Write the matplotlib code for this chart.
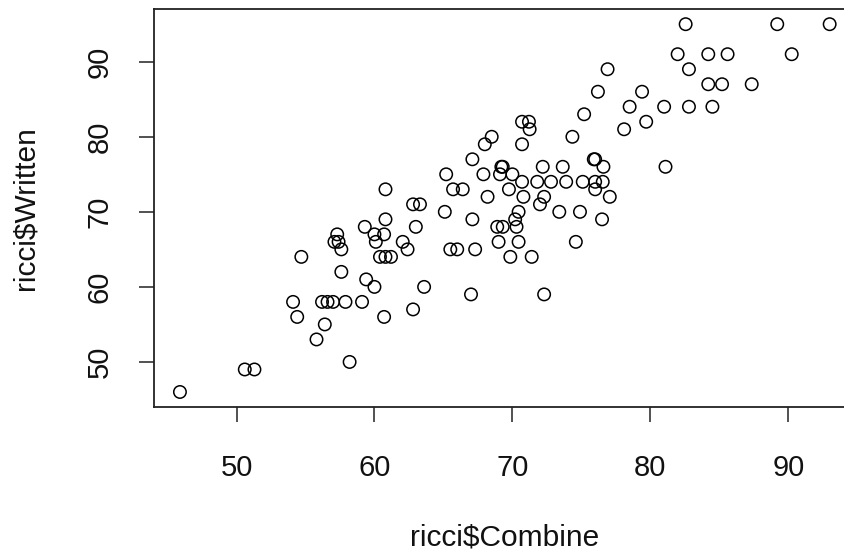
import matplotlib
matplotlib.use("Agg")
import matplotlib.pyplot as plt
import numpy as np

# Combined score vs written score, one entry per candidate
combine = [
    45.9, 50.6, 51.3, 55.8, 56.4, 54.4, 60.7, 62.8, 54.1, 56.2,
    56.6, 57.0, 57.9, 59.1, 58.2, 67.0, 72.3, 60.0, 63.6, 59.4,
    57.6, 54.7, 60.4, 60.8, 61.2, 69.85, 71.4, 57.6, 62.4, 65.5,
    66.0, 67.3, 57.1, 57.4, 60.1, 62.05, 69.0, 70.45, 74.6, 57.3,
    60.0, 60.7, 59.3, 63.0, 68.9, 69.3, 70.3, 60.8, 67.1, 70.2,
    76.5, 65.1, 70.45, 73.4, 74.9, 62.8, 63.3, 72.0, 68.2, 70.8,
    72.3, 77.06, 60.8, 65.7, 66.4, 69.75, 76.0, 70.7, 71.8, 72.8,
    73.9, 75.1, 76.0, 76.55, 65.2, 67.9, 69.1, 70.0, 69.2, 69.3,
    72.2, 73.65, 76.6, 81.1, 67.1, 75.9, 76.0, 68.0, 70.7, 68.5,
    74.35, 71.25, 78.1, 70.7, 71.2, 79.7, 75.2, 78.5, 81.0, 82.8,
    84.5, 76.2, 79.4, 84.2, 85.2, 87.35, 76.9, 82.8, 81.98, 84.2,
    85.6, 90.25, 82.56, 89.2, 93.0,
]
written = [
    46, 49, 49, 53, 55, 56, 56, 57, 58, 58,
    58, 58, 58, 58, 50, 59, 59, 60, 60, 61,
    62, 64, 64, 64, 64, 64, 64, 65, 65, 65,
    65, 65, 66, 66, 66, 66, 66, 66, 66, 67,
    67, 67, 68, 68, 68, 68, 68, 69, 69, 69,
    69, 70, 70, 70, 70, 71, 71, 71, 72, 72,
    72, 72, 73, 73, 73, 73, 73, 74, 74, 74,
    74, 74, 74, 74, 75, 75, 75, 75, 76, 76,
    76, 76, 76, 76, 77, 77, 77, 79, 79, 80,
    80, 81, 81, 82, 82, 82, 83, 84, 84, 84,
    84, 86, 86, 87, 87, 87, 89, 89, 91, 91,
    91, 91, 95, 95, 95,
]
xticks = [50, 60, 70, 80, 90]
yticks = [50, 60, 70, 80, 90]

plt.rcParams['font.family'] = ['Liberation Sans', 'DejaVu Sans']

fig = plt.figure(figsize=(8.45, 5.54), dpi=100)
ax = fig.add_axes([0.1822, 0.2659, 0.8304, 0.7170])

ax.scatter(combine, written, s=80, facecolors='none', edgecolors='black',
           linewidths=1.1)

# R style 4% padding around the data range
x = np.array(combine)
y = np.array(written)
xpad = (x.max() - x.min()) * 0.04
ypad = (y.max() - y.min()) * 0.04
ax.set_xlim(x.min() - xpad, x.max() + xpad)
ax.set_ylim(y.min() - ypad, y.max() + ypad)

ax.set_xticks(xticks)
ax.set_yticks(yticks)
ax.set_yticklabels([str(t) for t in yticks], rotation=90, va='center')
ax.tick_params(axis='both', length=11, width=1.1, labelsize=21,
               color='#222222', labelcolor='#111111')
ax.tick_params(axis='x', pad=23)
ax.tick_params(axis='y', pad=18)
for sp in ax.spines.values():
    sp.set_linewidth(1.3)
    sp.set_color('#222222')

ax.set_xlabel('ricci$Combine', fontsize=21.5, labelpad=30, color='#111111')
ax.set_ylabel('ricci$Written', fontsize=21.5, labelpad=33, color='#111111')

fig.savefig('out.png', dpi=100)
